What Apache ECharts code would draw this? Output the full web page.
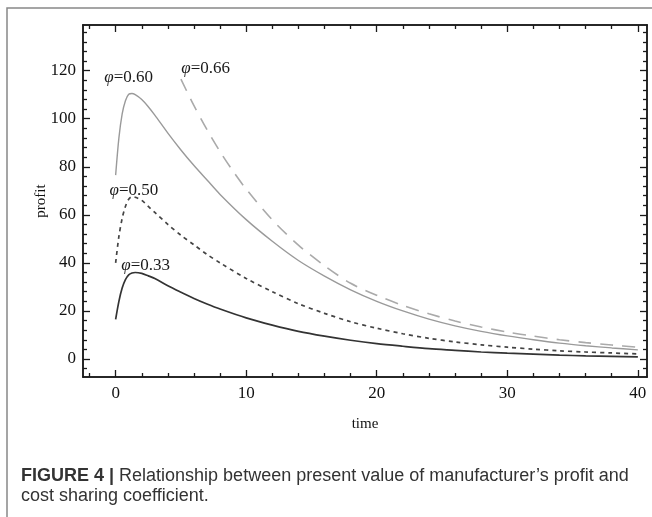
<!DOCTYPE html>
<html><head><meta charset="utf-8">
<script src="https://cdn.jsdelivr.net/npm/echarts@6/dist/echarts.min.js"></script>
<style>html,body{margin:0;padding:0;background:#fff;}#c{width:652px;height:517px;}</style>
</head><body><div id="c"></div>
<script>
// ---- data ----
const time      = [0, 0.25, 0.5, 0.75, 1, 1.25, 1.5, 2, 2.5, 3, 4, 5, 6, 7, 8, 10, 12, 14, 16, 18, 20, 22, 24, 26, 28, 30, 32, 34, 36, 38, 40];
const profit033 = [16.5, 24, 29.5, 33, 35, 35.8, 36, 35.6, 34.6, 33.5, 30.5, 27.8, 25.2, 22.9, 20.8, 17.1, 14.1, 11.5, 9.5, 7.8, 6.4, 5.3, 4.3, 3.6, 2.9, 2.4, 2.0, 1.6, 1.3, 1.1, 0.9];
const profit050 = [40, 51, 58.5, 63.5, 66.5, 67.5, 67.3, 66, 63.5, 61, 56, 51.5, 47.5, 43.5, 40, 33.5, 28, 23, 19, 15.5, 12.8, 10.5, 8.6, 7.1, 5.9, 4.9, 4.1, 3.4, 2.9, 2.5, 2.1];
const profit060 = [76.5, 92, 102, 107.5, 110.2, 110.5, 110, 108, 105, 101.5, 94, 87, 80.5, 74.5, 68.5, 58, 49, 41, 34.5, 28.8, 24, 20, 16.6, 13.8, 11.5, 9.6, 8.0, 6.6, 5.5, 4.6, 3.8];
const time066   = [5, 6, 7, 8, 9, 10, 12, 14, 16, 18, 20, 22, 24, 26, 28, 30, 32, 34, 36, 38, 40];
const profit066 = [116.5, 105.4, 95.4, 86.3, 78.1, 70.7, 57.9, 47.4, 38.8, 31.5, 26.5, 22.3, 18.8, 15.8, 13.3, 11.2, 9.5, 8.0, 6.8, 5.8, 4.9];
const phiLabels = ['0.33', '0.50', '0.60', '0.66'];
const xMajorTicks = [0, 10, 20, 30, 40];
const xMinorTicks = [-2, 2, 4, 6, 8, 12, 14, 16, 18, 22, 24, 26, 28, 32, 34, 36, 38];
const yMajorTicks = [0, 20, 40, 60, 80, 100, 120];
const yMinorTicks = [-4, 4, 8, 12, 16, 24, 28, 32, 36, 44, 48, 52, 56, 64, 68, 72, 76, 84, 88, 92, 96, 104, 108, 112, 116, 124, 128, 132, 136];
const xTitle = 'time';
const yTitle = 'profit';
const caption = ['FIGURE 4 |', ' Relationship between present value of manufacturer\u2019s profit and\ncost sharing coefficient.'];

// ---- chart ----
const SERIF = '"Liberation Serif", "DejaVu Serif", serif';
const SANS = '"Liberation Sans", Arial, sans-serif';
const XMIN = -2.5, XMAX = 40.7, YMIN = -7.5, YMAX = 139;
const frameColor = '#1a1a1a';

function xAxisDef(position, ticks, len, labels) {
  return {
    type: 'value', position: position, min: XMIN, max: XMAX,
    splitLine: { show: false },
    axisLine: { show: true, onZero: false, lineStyle: { color: frameColor, width: 1.5 } },
    axisTick: { show: true, inside: true, length: len, customValues: ticks, lineStyle: { color: frameColor, width: 1.3 } },
    axisLabel: labels ? { show: true, customValues: ticks, margin: 8, fontFamily: SERIF, fontSize: 17, color: '#111' } : { show: false },
    name: labels ? xTitle : '', nameLocation: 'middle', nameGap: 40, nameMoveOverlap: false,
    nameTextStyle: { fontFamily: SERIF, fontSize: 15, color: '#111' }
  };
}
function yAxisDef(position, ticks, len, labels) {
  return {
    type: 'value', position: position, min: YMIN, max: YMAX,
    splitLine: { show: false },
    axisLine: { show: true, onZero: false, lineStyle: { color: frameColor, width: 1.5 } },
    axisTick: { show: true, inside: true, length: len, customValues: ticks, lineStyle: { color: frameColor, width: 1.3 } },
    axisLabel: labels ? { show: true, customValues: ticks, margin: 7, fontFamily: SERIF, fontSize: 17, color: '#111' } : { show: false },
    name: labels ? yTitle : '', nameLocation: 'middle', nameGap: 34, nameRotate: 90, nameMoveOverlap: false,
    nameTextStyle: { fontFamily: SERIF, fontSize: 15, color: '#111' }
  };
}

function lbl(text, coord) {
  return {
    symbol: 'rect', symbolSize: 1, itemStyle: { color: 'rgba(0,0,0,0)' },
    label: {
      show: true, position: 'inside',
      formatter: '{i|\u03c6}{n|=' + text + '}',
      rich: {
        i: { fontFamily: SERIF, fontStyle: 'italic', fontSize: 17, color: '#1a1a1a' },
        n: { fontFamily: SERIF, fontSize: 17, color: '#1a1a1a' }
      }
    },
    data: [{ coord: coord }]
  };
}
const pairs = (xs, ys) => xs.map((x, i) => [x, ys[i]]);

const option = {
  animation: false,
  backgroundColor: '#fff',
  grid: { left: 83, top: 25, right: 5, bottom: 140 },
  xAxis: [
    xAxisDef('bottom', xMajorTicks, 7, true),
    xAxisDef('bottom', xMinorTicks, 4, false),
    xAxisDef('top', xMajorTicks, 7, false),
    xAxisDef('top', xMinorTicks, 4, false)
  ],
  yAxis: [
    yAxisDef('left', yMajorTicks, 7, true),
    yAxisDef('left', yMinorTicks, 4, false),
    yAxisDef('right', yMajorTicks, 7, false),
    yAxisDef('right', yMinorTicks, 4, false)
  ],
  title: {
    left: 21, top: 466, padding: 0,
    text: '{b|' + caption[0] + '}' + caption[1],
    textStyle: {
      fontFamily: SANS, fontSize: 18, fontWeight: 'normal', color: '#333', lineHeight: 20,
      rich: { b: { fontFamily: SANS, fontSize: 18, fontWeight: 'bold', color: '#333', lineHeight: 20 } }
    }
  },
  graphic: [{
    type: 'rect', silent: true, z: -10,
    shape: { x: 7, y: 8, width: 700, height: 600 },
    style: { fill: 'none', stroke: '#888', lineWidth: 1.5 }
  }],
  series: [
    { type: 'line', name: phiLabels[0], data: pairs(time, profit033), showSymbol: false, smooth: 0.3,
      lineStyle: { color: '#333', width: 1.7 }, markPoint: lbl(phiLabels[0], [2.3, 39]) },
    { type: 'line', name: phiLabels[1], data: pairs(time, profit050), showSymbol: false, smooth: 0.3,
      lineStyle: { color: '#444', width: 1.7, type: [4, 4] }, markPoint: lbl(phiLabels[1], [1.4, 70]) },
    { type: 'line', name: phiLabels[2], data: pairs(time, profit060), showSymbol: false, smooth: 0.3,
      lineStyle: { color: '#9a9a9a', width: 1.4 }, markPoint: lbl(phiLabels[2], [1.0, 117]) },
    { type: 'line', name: phiLabels[3], data: pairs(time066, profit066), showSymbol: false, smooth: 0.3,
      lineStyle: { color: '#aaa', width: 1.6, type: [13, 9] }, markPoint: lbl(phiLabels[3], [6.9, 121]) }
  ]
};
const chart = echarts.init(document.getElementById('c'), null, { renderer: 'canvas' });
chart.setOption(option);
</script>
</body></html>
